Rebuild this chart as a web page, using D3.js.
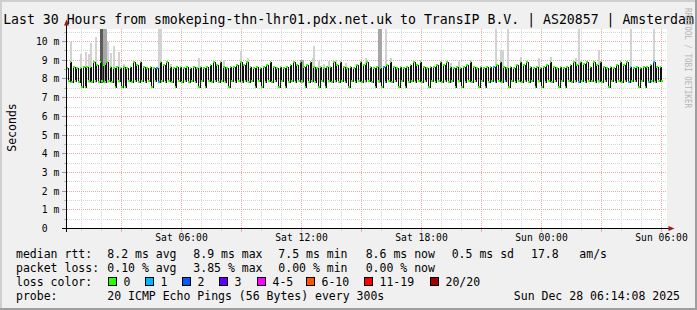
<!DOCTYPE html>
<html><head><meta charset="utf-8">
<script src="https://cdn.jsdelivr.net/npm/d3@7"></script>
<style>
html,body{margin:0;padding:0;background:#f0f0f0;overflow:hidden;}
svg{display:block;}
text{font-family:"DejaVu Sans Mono",monospace;white-space:pre;}
</style></head><body>
<svg id="c" width="697" height="310"></svg>
<script>
// ---------- data ----------
const titleText = "Last 30 Hours from smokeping-thn-lhr01.pdx.net.uk to TransIP B.V. | AS20857 | Amsterdam";
const startTime = Date.UTC(2025, 11, 27, 0, 15, 0);
const stepSeconds = 300;
const spanHours = 30;

// median rtt per 300s step (ms)
const median = [
 8.55,7.85,8.9,7.82,8.6,7.85,8.58,7.8,8.55,7.55,8.6,7.55,8.6,7.85,8.62,7.82,8.88,7.85,8.7,7.8,
 8.9,7.85,8.72,7.82,8.88,7.85,8.6,7.8,8.58,7.55,8.6,7.85,8.55,7.52,8.6,7.55,8.58,7.85,8.62,7.82,
 8.9,7.85,8.7,7.8,8.88,7.85,8.6,7.82,8.55,7.85,8.6,7.55,8.58,7.85,8.55,7.8,8.9,7.85,8.72,7.82,
 8.88,7.85,8.6,7.8,8.55,7.55,8.6,7.85,8.62,7.82,8.58,7.85,8.6,7.8,8.55,7.85,8.6,7.82,8.58,7.55,
 8.6,7.85,8.55,7.52,8.6,7.85,8.7,7.82,8.9,7.85,8.72,7.8,8.88,7.85,8.6,7.82,8.58,7.55,8.6,7.85,
 8.62,7.82,8.7,7.85,8.9,7.8,8.72,7.85,8.88,7.82,8.6,7.85,8.55,7.55,8.6,7.85,8.58,7.52,8.6,7.82,
 8.7,7.85,8.9,7.82,8.6,7.85,8.55,7.55,8.6,7.85,8.58,7.55,8.6,7.82,8.7,7.85,8.88,7.8,8.72,7.85,
 8.9,7.85,8.6,7.55,8.7,7.82,8.88,7.85,8.6,7.8,8.55,7.55,8.6,7.85,8.58,7.52,8.6,7.85,8.62,7.82,
 8.9,7.85,8.72,7.8,8.88,7.85,8.6,7.82,8.55,7.55,8.6,7.85,8.58,7.82,8.7,7.85,8.9,7.8,8.72,7.85,
 8.88,7.85,8.6,7.82,8.55,7.55,8.6,7.85,8.58,7.52,8.6,7.82,8.7,7.85,8.9,7.8,8.6,7.85,8.55,7.55,
 8.6,7.85,8.58,7.55,8.6,7.82,8.7,7.85,8.9,7.8,8.72,7.85,8.88,7.82,8.6,7.85,8.55,7.55,8.6,7.85,
 8.62,7.82,8.7,7.85,8.9,7.8,8.72,7.85,8.88,7.82,8.6,7.85,8.55,7.55,8.6,7.85,8.58,7.52,8.6,7.82,
 8.7,7.85,8.9,7.82,8.6,7.85,8.55,7.55,8.6,7.85,8.58,7.55,8.6,7.82,8.62,7.85,8.6,7.8,8.7,7.85,
 8.9,7.82,8.6,7.85,8.55,7.55,8.6,7.85,8.58,7.82,8.7,7.85,8.9,7.8,8.72,7.85,8.88,7.82,8.6,7.85,
 8.55,7.55,8.6,7.85,8.58,7.52,8.6,7.82,8.7,7.85,8.9,7.8,8.6,7.85,8.55,7.55,8.6,7.85,8.58,7.55,
 8.6,7.85,8.7,7.82,8.9,7.85,8.72,7.8,8.88,7.85,8.75,7.82,8.9,7.85,8.6,7.85,8.88,7.8,8.72,7.85,
 8.9,7.82,8.6,7.85,8.55,7.55,8.6,7.85,8.58,7.82,8.7,7.85,8.9,7.8,8.72,7.85,8.88,7.82,8.6,7.85,
 8.55,7.85,8.6,7.55,8.58,7.85,8.6,7.52,8.6,7.82,8.7,7.85,8.9,7.8,8.6,7.85,8.6,7.85
];

// steps with packet loss (count of lost pings out of 20)
const lossIdx = [54, 55, 190, 191, 256, 257, 263, 307, 337, 338, 349, 352];
const lossCnt = [1, 1, 1, 1, 1, 1, 1, 1, 1, 1, 1, 1];

// smoke: highest ping per step where visible above the median band
const smokeIdx   = [2,8,11,13,14,17,20,21,22,23,24,26,28,31,34,55,56,62,79,94,104,108,140,141,147,148,151,154,157,161,167,179,187,188,191,194,212,230,235,242,257,260,261,264,272,283,290,305,307,319,332,338,350,352];
const smokeTop   = [9.96,9.32,9.46,9.32,9.94,10.23,10.7,10.7,10.7,10.7,10.0,9.37,9.76,9.46,8.78,10.7,10.7,8.8,9.1,9.0,9.51,9.1,9.0,9.0,9.1,9.78,8.95,8.8,8.95,9.0,8.85,9.1,10.7,10.7,10.7,9.12,9.0,8.85,8.95,9.0,10.7,9.55,9.55,10.7,9.2,9.1,9.2,9.1,10.7,9.55,9.0,10.7,8.8,10.7];
const smokeShade = [0,0,0,0,0,0,2,2,1,1,0,0,0,0,0,0,0,0,0,0,0,0,1,1,0,0,0,0,0,0,0,0,1,1,0,0,0,0,0,0,0,0,0,0,0,0,0,0,0,0,0,0,0,0];
const smokeBase = 7.8;

const yTickValues = [0,1,2,3,4,5,6,7,8,9,10];
const yTickLabels = [" 0  "," 1 m"," 2 m"," 3 m"," 4 m"," 5 m"," 6 m"," 7 m"," 8 m"," 9 m","10 m"];
const yLabel = "Seconds";

const rttLabel = "median rtt:";
const rttStats = ["8.2 ms avg", "8.9 ms max", "7.5 ms min", "8.6 ms now", "0.5 ms sd", "17.8", "am/s"];
const lossLabel = "packet loss:";
const lossStats = ["0.10 % avg", "3.85 % max", "0.00 % min", "0.00 % now"];
const colorLabel = "loss color:";
const lossNames = ["0", "1", "2", "3", "4-5", "6-10", "11-19", "20/20"];
const lossColors = ["#26ff00", "#00b8ff", "#0059ff", "#5e00ff", "#ff00ff", "#ff5500", "#ff0000", "#a10000"];
const lossMin = [0, 1, 2, 3, 4, 6, 11, 20];
const probeLabel = "probe:";
const probeText = "20 ICMP Echo Pings (56 Bytes) every 300s";
const dateText = "Sun Dec 28 06:14:08 2025";
const watermark = "RRDTOOL / TOBI OETIKER";

// ---------- drawing ----------
const W = 697, H = 310;
const svg = d3.select("#c");
const endTime = startTime + spanHours * 3600e3;
const x = d3.scaleUtc().domain([startTime, endTime]).range([66.5, 666.5]);
const y = d3.scaleLinear().domain([0, 10.7]).range([228.5, 28.5]);
const px = v => Math.round(v - 0.5) + 0.5;

// background and frame
svg.append("rect").attr("width", W).attr("height", H).attr("fill", "#f0f0f0");
svg.append("rect").attr("x", 0).attr("y", 0).attr("width", W).attr("height", 2).attr("fill", "#cfcfcf");
svg.append("rect").attr("x", 0).attr("y", 0).attr("width", 2).attr("height", H).attr("fill", "#cfcfcf");
svg.append("rect").attr("x", 0).attr("y", H - 2).attr("width", W).attr("height", 2).attr("fill", "#9e9e9e");
svg.append("rect").attr("x", W - 2).attr("y", 0).attr("width", 2).attr("height", H).attr("fill", "#9e9e9e");

// canvas
svg.append("rect").attr("x", 67).attr("y", 29).attr("width", 600).attr("height", 200).attr("fill", "#ffffff");

const grid = svg.append("g").attr("shape-rendering", "crispEdges").attr("fill", "none");
const gridGrey = "#d6d6d6", gridRed = "#eeaaaa";

// vertical grid
const minorT = x.ticks(d3.utcHour.every(1));
const majorT = x.ticks(d3.utcHour.every(3));
const majorSet = new Set(majorT.map(d => +d));
minorT.filter(d => !majorSet.has(+d)).forEach(d => {
  const xx = px(x(d));
  grid.append("line").attr("x1", xx).attr("x2", xx).attr("y1", 29).attr("y2", 228)
    .attr("stroke", gridGrey).attr("stroke-dasharray", "1,1");
  grid.append("line").attr("x1", xx).attr("x2", xx).attr("y1", 229).attr("y2", 231).attr("stroke", gridGrey);
});
majorT.forEach(d => {
  const xx = px(x(d));
  grid.append("line").attr("x1", xx).attr("x2", xx).attr("y1", 29).attr("y2", 228)
    .attr("stroke", gridRed).attr("stroke-dasharray", "1,1");
  grid.append("line").attr("x1", xx).attr("x2", xx).attr("y1", 229).attr("y2", 232).attr("stroke", gridRed);
});

// horizontal grid
yTickValues.forEach(v => {
  if (v > 0) {
    const yy = px(y(v));
    grid.append("line").attr("x1", 67).attr("x2", 666).attr("y1", yy).attr("y2", yy)
      .attr("stroke", gridRed).attr("stroke-dasharray", "1,1");
  }
  const ym = px(y(v + 0.5));
  if (v + 0.5 < 10.7) {
    grid.append("line").attr("x1", 67).attr("x2", 666).attr("y1", ym).attr("y2", ym)
      .attr("stroke", gridGrey).attr("stroke-dasharray", "1,1");
    grid.append("line").attr("x1", 64).attr("x2", 66).attr("y1", ym).attr("y2", ym).attr("stroke", "#bdbdbd");
  }
  const yy = px(y(v));
  grid.append("line").attr("x1", 62).attr("x2", 66).attr("y1", yy).attr("y2", yy).attr("stroke", "#9a9a9a");
});

// ----- per-pixel-column resampling, as rrdtool renders -----
const stepMs = stepSeconds * 1000;
const lossOf = new Map(lossIdx.map((k, j) => [k, lossCnt[j]]));
const smokeOf = new Map(smokeIdx.map((k, j) => [k, j]));
const cols = [];
for (let c = 0; c < 600; c++) {
  const t = x.invert(67.5 + c);
  const idx = Math.floor((t - startTime) / stepMs);
  if (idx < 0 || idx >= median.length) continue;
  cols.push({ c, px: 67 + c, idx, v: median[idx] });
}

// smoke (one bar per step, at least 2px wide)
const shadeColors = ["#d2d2d2", "#a6a6a6", "#5c5c5c"];
svg.append("g").attr("shape-rendering", "crispEdges").selectAll("rect").data(smokeIdx).join("rect")
  .attr("x", d => Math.round(x(startTime + d * stepMs)))
  .attr("width", d => Math.max(2, Math.round(x(startTime + (d + 1) * stepMs)) - Math.round(x(startTime + d * stepMs))))
  .attr("y", (d, j) => Math.round(y(smokeTop[j])))
  .attr("height", (d, j) => Math.round(y(smokeBase)) - Math.round(y(smokeTop[j])))
  .attr("fill", (d, j) => shadeColors[smokeShade[j]]);

// median black stair line
const rowOf = v => Math.floor(y(v));
const lineG = svg.append("g").attr("shape-rendering", "crispEdges").attr("fill", "#111");
cols.forEach((d, k) => {
  const r = rowOf(d.v);
  lineG.append("rect").attr("x", d.px).attr("y", r).attr("width", 1).attr("height", 1);
  if (k > 0 && cols[k - 1].idx !== d.idx) {
    const rp = rowOf(cols[k - 1].v);
    lineG.append("rect").attr("x", d.px).attr("y", Math.min(r, rp))
      .attr("width", 1).attr("height", Math.abs(r - rp) + 1);
  }
});

// loss-coloured median band
function colorForLoss(n) {
  let c = lossColors[0];
  lossMin.forEach((m, k) => { if (n >= m) c = lossColors[k]; });
  return c;
}
svg.append("g").attr("shape-rendering", "crispEdges").selectAll("rect").data(cols).join("rect")
  .attr("x", d => d.px).attr("width", 1)
  .attr("y", d => rowOf(d.v) - 1).attr("height", 2)
  .attr("fill", d => colorForLoss(lossOf.get(d.idx) || 0));

// axes
const axisG = svg.append("g").attr("shape-rendering", "crispEdges");
axisG.append("line").attr("x1", 66.5).attr("x2", 66.5).attr("y1", 232).attr("y2", 24).attr("stroke", "#000");
axisG.append("line").attr("x1", 62).attr("x2", 669).attr("y1", 228.5).attr("y2", 228.5).attr("stroke", "#000");
svg.append("path").attr("d", "M64,25.5 L66.5,19.5 L69,25.5 Z").attr("fill", "#9b1c1c");
svg.append("path").attr("d", "M668.5,226 L674.5,228.5 L668.5,231 Z").attr("fill", "#9b1c1c");

// x labels
const labelT = x.ticks(d3.utcHour.every(6));
const fmt = d3.utcFormat("%a %H:%M");
svg.append("g").selectAll("text").data(labelT).join("text")
  .attr("x", d => x(d)).attr("y", 241).attr("text-anchor", "middle")
  .attr("font-size", "9.7px").attr("fill", "#000").text(d => fmt(d));

// y labels
svg.append("g").selectAll("text").data(yTickValues).join("text")
  .attr("x", 36).attr("y", d => y(d) + 3.5)
  .attr("font-size", "9.7px").attr("fill", "#000").text((d, i) => yTickLabels[i]);

// y title
svg.append("text").attr("transform", "translate(15.5,127.5) rotate(-90)")
  .attr("text-anchor", "middle").attr("font-size", "11.5px").text(yLabel);

// title
svg.append("text").attr("x", W / 2).attr("y", 24).attr("text-anchor", "middle")
  .attr("font-size", "13.2px").text(titleText);

// watermark
svg.append("text").attr("transform", "translate(684.5,8) rotate(90)")
  .attr("font-size", "9px").attr("fill", "#b4b4b4")
  .attr("textLength", 100).attr("lengthAdjust", "spacingAndGlyphs").text(watermark);

// legend
const lg = svg.append("g").attr("font-size", "11.5px").attr("fill", "#000");
const rowY = [258, 272, 286, 300];
const statX = [107.3, 193.3, 278.3, 365.7, 451.7, 531, 579.3];
lg.append("text").attr("x", 16).attr("y", rowY[0]).text(rttLabel);
rttStats.forEach((s, k) => lg.append("text").attr("x", statX[k]).attr("y", rowY[0]).text(s));
lg.append("text").attr("x", 16).attr("y", rowY[1]).text(lossLabel);
lossStats.forEach((s, k) => lg.append("text").attr("x", statX[k]).attr("y", rowY[1]).text(s));
lg.append("text").attr("x", 16).attr("y", rowY[2]).text(colorLabel);
const boxX = [108.5, 145.5, 182.5, 219.5, 257.5, 306.5, 364.5, 430.5];
lossNames.forEach((n, k) => {
  lg.append("rect").attr("x", boxX[k]).attr("y", 277.5).attr("width", 8).attr("height", 8)
    .attr("fill", lossColors[k]).attr("stroke", "#000").attr("stroke-width", 1)
    .attr("shape-rendering", "crispEdges");
  lg.append("text").attr("x", boxX[k] + 15).attr("y", rowY[2]).text(n);
});
lg.append("text").attr("x", 16).attr("y", rowY[3]).text(probeLabel);
lg.append("text").attr("x", 107.3).attr("y", rowY[3]).text(probeText);
lg.append("text").attr("x", 680).attr("y", rowY[3]).attr("text-anchor", "end").text(dateText);
</script>
</body></html>
